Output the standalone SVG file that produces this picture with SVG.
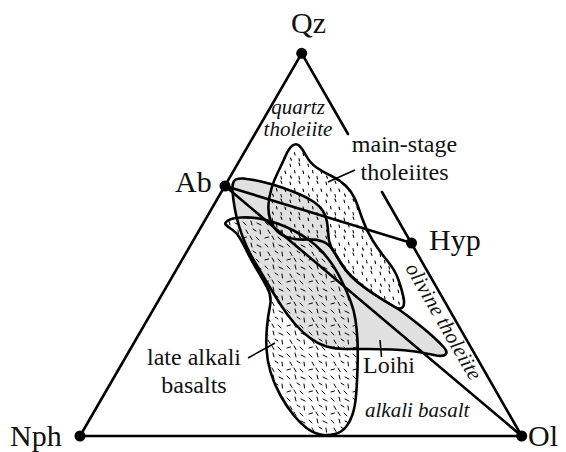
<svg xmlns="http://www.w3.org/2000/svg" width="566" height="452" viewBox="0 0 566 452">
<style>
.edge{stroke:#000;stroke-width:2.6;fill:none;stroke-linecap:round}
.out{stroke:#000;stroke-width:2.6;stroke-linejoin:round;fill:none}
.lead{stroke:#000;stroke-width:1.6;fill:none}
.lbl{font-family:"Liberation Serif",serif;fill:#111}
.v{font-size:30px}
.t{font-size:24px}
.it{font-size:21px;font-style:italic}
.dot{fill:#000}
</style>
<defs>
<pattern id="dots" width="18" height="18" patternUnits="userSpaceOnUse">
<g stroke="#000" stroke-width="1.1" stroke-linecap="round">
<line x1="2" y1="2" x2="2.6" y2="4.6"/>
<line x1="11" y1="1" x2="11.9" y2="3.4"/>
<line x1="6.5" y1="8.5" x2="7" y2="11"/>
<line x1="15" y1="9" x2="15.6" y2="11.4"/>
<line x1="2.5" y1="14" x2="3.4" y2="16.3"/>
<line x1="11" y1="14.5" x2="11.5" y2="17"/>
</g>
</pattern>
<pattern id="dash" width="22" height="22" patternUnits="userSpaceOnUse">
<g stroke="#000" stroke-width="1" stroke-linecap="round">
<line x1="1" y1="2" x2="4" y2="5"/>
<line x1="9" y1="1" x2="10" y2="5"/>
<line x1="15" y1="3" x2="19" y2="5"/>
<line x1="4" y1="10" x2="6" y2="13.5"/>
<line x1="11" y1="9" x2="14" y2="11"/>
<line x1="18" y1="10" x2="18.5" y2="14"/>
<line x1="1" y1="18" x2="4.5" y2="17"/>
<line x1="8" y1="16" x2="10" y2="19.5"/>
<line x1="14" y1="17" x2="17" y2="20"/>
</g>
</pattern>
<path id="msPath" d="M292.5,145.5 Q296,143 299,145.5 Q302,148 306,155.5 Q310,163 316.5,167.5 Q323,172 331.5,176 Q340,180 346,186 Q352,192 355,199 Q358,206 362,218 Q366,230 373,241 Q380,252 387.5,261 Q395,270 398.5,280 Q402,290 403.5,297.5 Q405,305 402.5,307.5 Q400,310 394,306.5 Q388,303 380,298 Q372,293 364.5,287.5 Q357,282 351,276 Q345,270 340.5,262.5 Q336,255 332.5,249.5 Q329,244 322.5,241.5 Q316,239 306.5,239.5 Q297,240 289.5,238 Q282,236 277,231 Q272,226 270,219 Q268,212 268.5,204.5 Q269,197 271.5,188.5 Q274,180 278,172 Q282,164 285.5,156 Q289,148 292.5,145.5 Z"/>
<path id="akPath" d="M226,225 Q224,223 228,220.5 Q232,218 241,217.5 Q250,217 259,218.5 Q268,220 277.5,223.5 Q287,227 294.5,231 Q302,235 309,240 Q316,245 322,251.5 Q328,258 333,265.5 Q338,273 342.5,282.5 Q347,292 350.5,301 Q354,310 355.5,320 Q357,330 357.5,341 Q358,352 357.5,368.5 Q357,385 356,396 Q355,407 352.5,414.5 Q350,422 346,427 Q342,432 335,434 Q328,436 320.5,434.5 Q313,433 306.5,428 Q300,423 293.5,415 Q287,407 280.5,395.5 Q274,384 270.5,372 Q267,360 266.5,348.5 Q266,337 267,326.5 Q268,316 270,306 Q272,296 267,287 Q262,278 256,268 Q250,258 246.5,250.5 Q243,243 239.5,237.5 Q236,232 232,229.5 Q228,227 226,225 Z"/>
<path id="lhPath" d="M234,181 Q236,178 243,178.5 Q250,179 261,181.5 Q272,184 282,187.5 Q292,191 300,194.5 Q308,198 314,202 Q320,206 323,211 Q326,216 327,222 Q328,228 328.5,236 Q329,244 332.5,249.5 Q336,255 340.5,262.5 Q345,270 351,276 Q357,282 364.5,287.5 Q372,293 380,298 Q388,303 394,306.5 Q400,310 406.5,315 Q413,320 420.5,326 Q428,332 434,337.5 Q440,343 444,347.5 Q448,352 445.5,354.5 Q443,357 434,355 Q425,353 415,351.5 Q405,350 392.5,349.5 Q380,349 367.5,349 Q355,349 345,349 Q335,349 326.5,346.5 Q318,344 310,338 Q302,332 295,324 Q288,316 281.5,306 Q275,296 268.5,285 Q262,274 256,264 Q250,254 246,245 Q242,236 239,226 Q236,216 234.5,207 Q233,198 232.5,191 Q232,184 234,181 Z"/>
</defs>
<rect width="566" height="452" fill="#fff"/>

<g id="field-main-stage"><use href="#msPath" fill="#fff"/></g>
<g id="field-alkali"><use href="#akPath" fill="#fff"/></g>
<g id="field-loihi"><use href="#lhPath" fill="#e0e0e0"/></g>
<g id="field-textures">
<use href="#msPath" fill="url(#dots)"/>
<use href="#akPath" fill="url(#dash)"/>
</g>
<g id="field-outlines" class="out">
<use href="#msPath"/>
<use href="#akPath"/>
<use href="#lhPath"/>
</g>

<g id="connectors">
<line class="edge" x1="301.7" y1="53.3" x2="80" y2="436"/>
<line class="edge" x1="80" y1="436" x2="521.7" y2="436"/>
<line class="edge" x1="301.7" y1="53.3" x2="348" y2="134"/>
<line class="edge" x1="382" y1="192" x2="521.7" y2="436"/>
<line class="edge" x1="225" y1="186" x2="411.5" y2="243"/>
<line class="edge" x1="225" y1="186" x2="521.7" y2="436"/>
<line class="lead" x1="355" y1="170" x2="328" y2="182"/>
<line class="lead" x1="248" y1="358" x2="275" y2="343"/>
<line class="lead" x1="381.5" y1="357" x2="380" y2="340"/>
</g>

<g id="node-Qz"><circle class="dot" cx="301.7" cy="53.3" r="5.5"/><text class="lbl v" x="291" y="33">Qz</text></g>
<g id="node-Ab"><circle class="dot" cx="225" cy="186" r="5.5"/><text class="lbl v" x="175" y="192">Ab</text></g>
<g id="node-Hyp"><circle class="dot" cx="411.5" cy="243" r="5.5"/><text class="lbl v" x="429" y="250">Hyp</text></g>
<g id="node-Nph"><circle class="dot" cx="80" cy="436" r="5.5"/><text class="lbl v" x="10" y="446">Nph</text></g>
<g id="node-Ol"><circle class="dot" cx="521.7" cy="436" r="5.5"/><text class="lbl v" x="528" y="446">Ol</text></g>

<g id="labels">
<text class="lbl it" x="298" y="114" text-anchor="middle">quartz</text>
<text class="lbl it" x="298" y="136" text-anchor="middle">tholeiite</text>
<text class="lbl t" x="404.5" y="152" text-anchor="middle">main-stage</text>
<text class="lbl t" x="404.5" y="180" text-anchor="middle">tholeiites</text>
<text class="lbl it" transform="translate(405,268) rotate(60)">olivine tholeiite</text>
<text class="lbl t" x="194" y="365" text-anchor="middle">late alkali</text>
<text class="lbl t" x="194" y="393" text-anchor="middle">basalts</text>
<text class="lbl t" x="363" y="373">Loihi</text>
<text class="lbl it" x="365" y="417">alkali basalt</text>
</g>
</svg>
